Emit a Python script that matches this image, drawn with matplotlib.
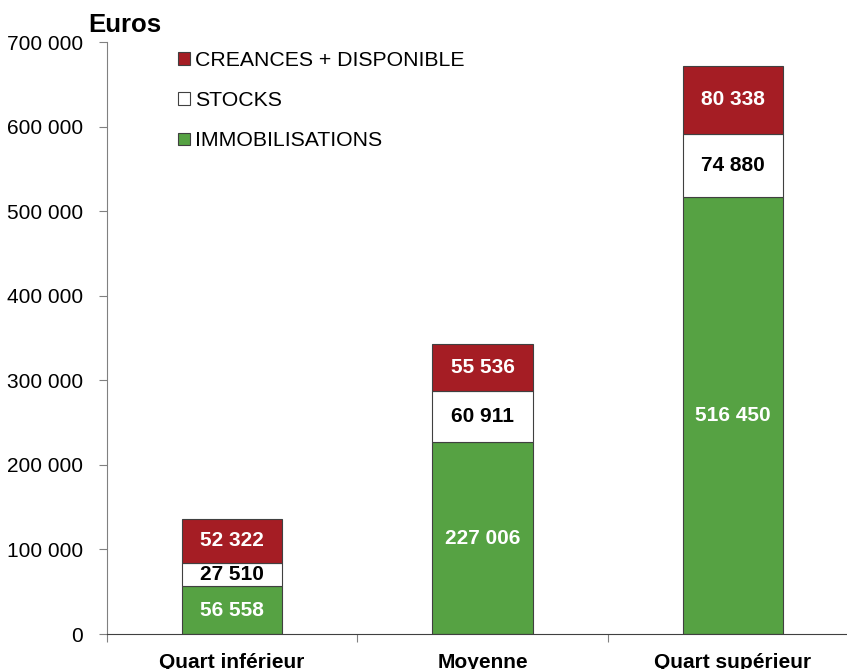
import numpy as np
import matplotlib
matplotlib.use("Agg")
from matplotlib import pyplot as plt

plt.rcParams['font.family'] = ['Liberation Sans', 'DejaVu Sans']

categories = ['Quart inférieur', 'Moyenne', 'Quart supérieur']
immobilisations = [56558, 227006, 516450]
stocks = [27510, 60911, 74880]
creances = [52322, 55536, 80338]
yticks = [0, 100000, 200000, 300000, 400000, 500000, 600000, 700000]

green = '#56A243'
red = '#A51D24'


def fmt(v):
    return f'{v:,}'.replace(',', ' ')


fig = plt.figure(figsize=(8.47, 6.69), dpi=100)
ax = fig.add_axes([107 / 847, 35 / 669, 751 / 847, 592 / 669])

x = np.arange(len(categories))
w = 0.4
b1 = ax.bar(x, immobilisations, w, color=green, edgecolor='#404040', linewidth=0.8,
            label='IMMOBILISATIONS')
b2 = ax.bar(x, stocks, w, bottom=immobilisations, color='white', edgecolor='#404040',
            linewidth=0.8, label='STOCKS')
bottom3 = np.array(immobilisations) + np.array(stocks)
b3 = ax.bar(x, creances, w, bottom=bottom3, color=red, edgecolor='#404040',
            linewidth=0.8, label='CREANCES + DISPONIBLE')

for i in range(len(categories)):
    ax.text(x[i], immobilisations[i] / 2, fmt(immobilisations[i]), ha='center',
            va='center', color='white', fontsize=15, fontweight='bold')
    ax.text(x[i], immobilisations[i] + stocks[i] / 2, fmt(stocks[i]), ha='center',
            va='center', color='black', fontsize=15, fontweight='bold')
    ax.text(x[i], bottom3[i] + creances[i] / 2, fmt(creances[i]), ha='center',
            va='center', color='white', fontsize=15, fontweight='bold')

ax.set_xlim(-0.5, 2.5)
ax.set_ylim(0, 700000)
ax.set_yticks(yticks)
ax.set_yticklabels([fmt(v) for v in yticks], fontsize=15)
ax.set_xticks([-0.5, 0.5, 1.5, 2.5])
ax.set_xticklabels([])
ax.set_xticks(x, minor=True)
ax.set_xticklabels(categories, minor=True, fontsize=15, fontweight='bold')
ax.tick_params(axis='x', which='minor', length=0, pad=14)
ax.tick_params(axis='x', which='major', length=6, direction='out', color='#808080')
ax.tick_params(axis='y', length=6, color='#808080', pad=11.5)

for s in ['top', 'right']:
    ax.spines[s].set_visible(False)
ax.spines['left'].set_color('#808080')
ax.spines['bottom'].set_color('#404040')

fig.text(88 / 847, 1 - 25 / 669, 'Euros', fontsize=18.5, fontweight='bold',
         ha='left', va='center')

leg = ax.legend(handles=[b3, b2, b1], loc='upper left',
                bbox_to_anchor=(178 / 847, 1 - 51 / 669), bbox_transform=fig.transFigure,
                frameon=False, fontsize=15.3, handlelength=0.55, handleheight=0.55,
                handletextpad=0.25, labelspacing=1.0, borderpad=0, borderaxespad=0)

fig.savefig('out.png', dpi=100)
